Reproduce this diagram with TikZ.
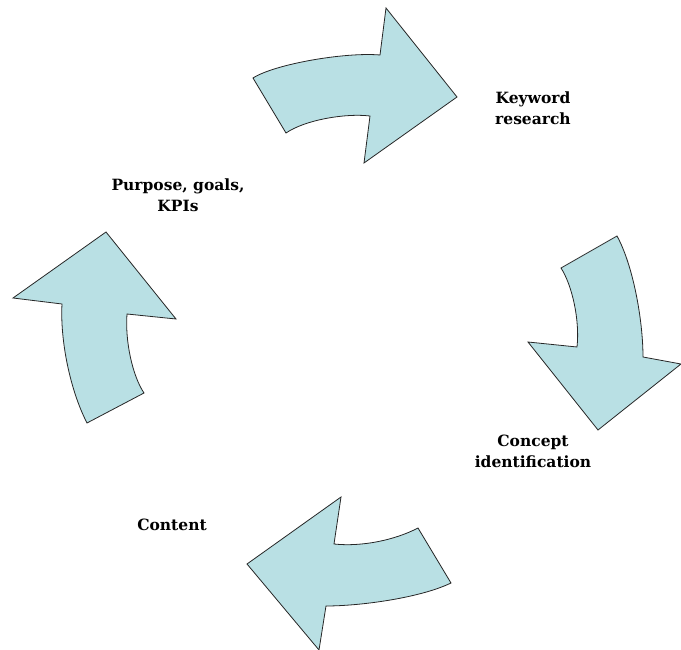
\documentclass[tikz,border=0pt]{standalone}
\usepackage{fontspec}
\setmainfont{DejaVu Serif}
\definecolor{arrowblue}{RGB}{185,224,228}
\begin{document}
\begin{tikzpicture}[x=1pt,y=-1pt,
    cyclearrow/.style={draw=black!85,fill=arrowblue,line width=0.8pt,line join=miter},
    lbl/.style={font=\bfseries\fontsize{15.5}{21}\selectfont,align=center}]
    \useasboundingbox (0,0) rectangle (681,650);

    % top arrow
    \draw[cyclearrow] (253,78) .. controls (275,64) and (345,52) .. (380,55)
        -- (386,8) -- (457,97) -- (364,163) -- (370,116)
        .. controls (345,113) and (305,120) .. (286,133) -- cycle;
    % right arrow
    \draw[cyclearrow] (617,236) .. controls (633,265) and (643,320) .. (643,357)
        -- (681,364) -- (598,430) -- (528,342) -- (577,347)
        .. controls (580,320) and (572,285) .. (561,268) -- cycle;
    % bottom arrow
    \draw[cyclearrow] (451,583) .. controls (420,598) and (360,606) .. (326,606)
        -- (319,650) -- (247,564) -- (341,497) -- (334,544)
        .. controls (362,547) and (395,540) .. (418,528) -- cycle;
    % left arrow
    \draw[cyclearrow] (87,423) .. controls (70,390) and (60,340) .. (62,304)
        -- (13,298) -- (106,232) -- (176,319) -- (127,314)
        .. controls (125,340) and (132,375) .. (144,393) -- cycle;

    \node[lbl] (keyword) at (533,108) {Keyword\\research};
    \node[lbl] (concept) at (533,451) {Concept\\identification};
    \node[lbl] (content) at (172,525) {Content};
    \node[lbl] (purpose) at (178,195) {Purpose, goals,\\KPIs};
\end{tikzpicture}
\end{document}
